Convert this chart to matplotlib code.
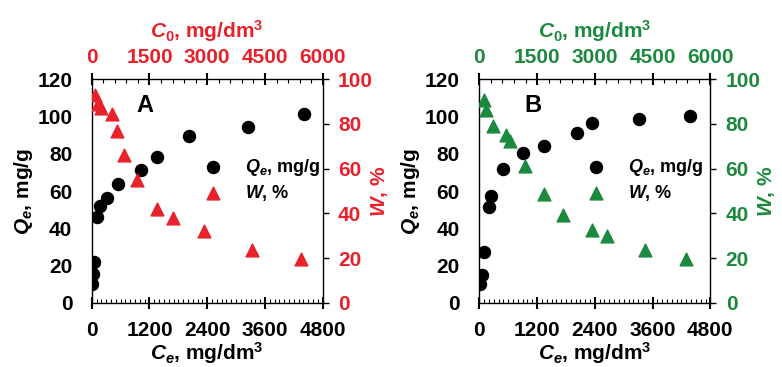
import numpy as np
import matplotlib
matplotlib.use('Agg')
import matplotlib.pyplot as plt
from matplotlib.ticker import MultipleLocator

plt.rcParams['font.family'] = ['Liberation Sans', 'DejaVu Sans']
plt.rcParams['font.weight'] = 'bold'
plt.rcParams['axes.labelweight'] = 'bold'
plt.rcParams['mathtext.fontset'] = 'custom'
plt.rcParams['mathtext.rm'] = 'Liberation Sans:bold'
plt.rcParams['mathtext.it'] = 'Liberation Sans:italic:bold'
plt.rcParams['mathtext.bf'] = 'Liberation Sans:bold'

# panel A
a_ce = [13, 34, 55, 117, 172, 311, 553, 1018, 1350, 2028, 3255, 4420]
a_qe = [10, 15.5, 22, 46, 52, 56, 63.5, 71, 78, 89.5, 94.5, 101]
a_c0 = [87, 155, 241, 519, 665, 839, 1168, 1704, 2103, 2916, 4171, 5436]
a_w = [93, 89, 87, 84.5, 77, 66, 55, 42, 38, 32, 23.5, 19.5]

# panel B
b_ce = [21, 48, 104, 193, 241, 484, 914, 1350, 2022, 2340, 3325, 4377]
b_qe = [10, 15, 27.5, 51.5, 57.5, 72, 80.5, 84, 91, 96.5, 98.5, 100]
b_c0 = [112, 172, 346, 692, 795, 1184, 1688, 2163, 2924, 3306, 4311, 5365]
b_w = [90.5, 86, 79, 75, 72.5, 61, 48.5, 39.5, 32.5, 30, 23.5, 19.5]

ce_ticks = [0, 1200, 2400, 3600, 4800]
c0_ticks = [0, 1500, 3000, 4500, 6000]
qe_ticks = [0, 20, 40, 60, 80, 100, 120]
w_ticks = [0, 20, 40, 60, 80, 100]

RED = '#E8222B'
GREEN = '#1C8A3E'
FS = 15

fig = plt.figure(figsize=(7.82, 3.67), dpi=100)


def panel(left, ce, qe, c0, w, col, letter, leg_x):
    ax = fig.add_axes([left, 0.1744, 0.2954, 0.6103])
    ax.scatter(ce, qe, s=75, color='black', zorder=3, label=r'$Q_e$, mg/g')
    ax.set_xlim(0, 4800)
    ax.set_ylim(0, 120)
    ax.set_xticks(ce_ticks)
    ax.set_yticks(qe_ticks)
    ax.xaxis.set_minor_locator(MultipleLocator(100))
    ax.tick_params(axis='x', which='major', direction='inout', length=8, width=1.5,
                   labelsize=FS, pad=9)
    ax.tick_params(axis='x', which='minor', direction='in', length=3, width=0.8)
    ax.tick_params(axis='y', which='major', length=0, labelsize=FS, pad=14)
    ax.set_xlabel(r'$C_e$, mg/dm$^3$', fontsize=FS, labelpad=0)
    ax.set_ylabel(r'$Q_e$, mg/g', fontsize=FS, labelpad=2)
    ax.text(0.23, 0.88, letter, transform=ax.transAxes, fontsize=17,
            ha='center', va='center')

    ax2 = fig.add_axes(ax.get_position(), facecolor='none')
    ax2.scatter(c0, w, s=85, marker='^', color=col, zorder=3, label=r'$W$, %')
    ax2.set_xlim(0, 6000)
    ax2.set_ylim(0, 100)
    ax2.xaxis.tick_top()
    ax2.xaxis.set_label_position('top')
    ax2.yaxis.tick_right()
    ax2.yaxis.set_label_position('right')
    ax2.set_xticks(c0_ticks)
    ax2.set_yticks(w_ticks)
    ax2.xaxis.set_minor_locator(MultipleLocator(300))
    ax2.tick_params(axis='x', which='major', direction='inout', length=8, width=1.5,
                    labelsize=FS, labelcolor=col, pad=5)
    ax2.tick_params(axis='x', which='minor', direction='in', length=3, width=0.8)
    ax2.tick_params(axis='y', which='major', direction='out', length=4, width=1,
                    labelsize=FS, labelcolor=col, pad=7)
    ax2.set_xlabel(r'$C_\mathrm{0}$, mg/dm$^3$', fontsize=FS, color=col, labelpad=7)
    ax2.set_ylabel(r'$W$, %', fontsize=FS, color=col, labelpad=-3)
    for s in ax2.spines.values():
        s.set_visible(False)
    for s in ax.spines.values():
        s.set_linewidth(1)

    h1, l1 = ax.get_legend_handles_labels()
    h2, l2 = ax2.get_legend_handles_labels()
    ax2.legend(h1 + h2, l1 + l2, loc='center left', bbox_to_anchor=(leg_x, 0.55),
               frameon=False, fontsize=13, handlelength=1, handletextpad=1.3,
               labelspacing=0.25, borderpad=0.4)


panel(0.1173, a_ce, a_qe, a_c0, a_w, RED, 'A', 0.415)
panel(0.6130, b_ce, b_qe, b_c0, b_w, GREEN, 'B', 0.395)

fig.savefig('out.png', dpi=100)
